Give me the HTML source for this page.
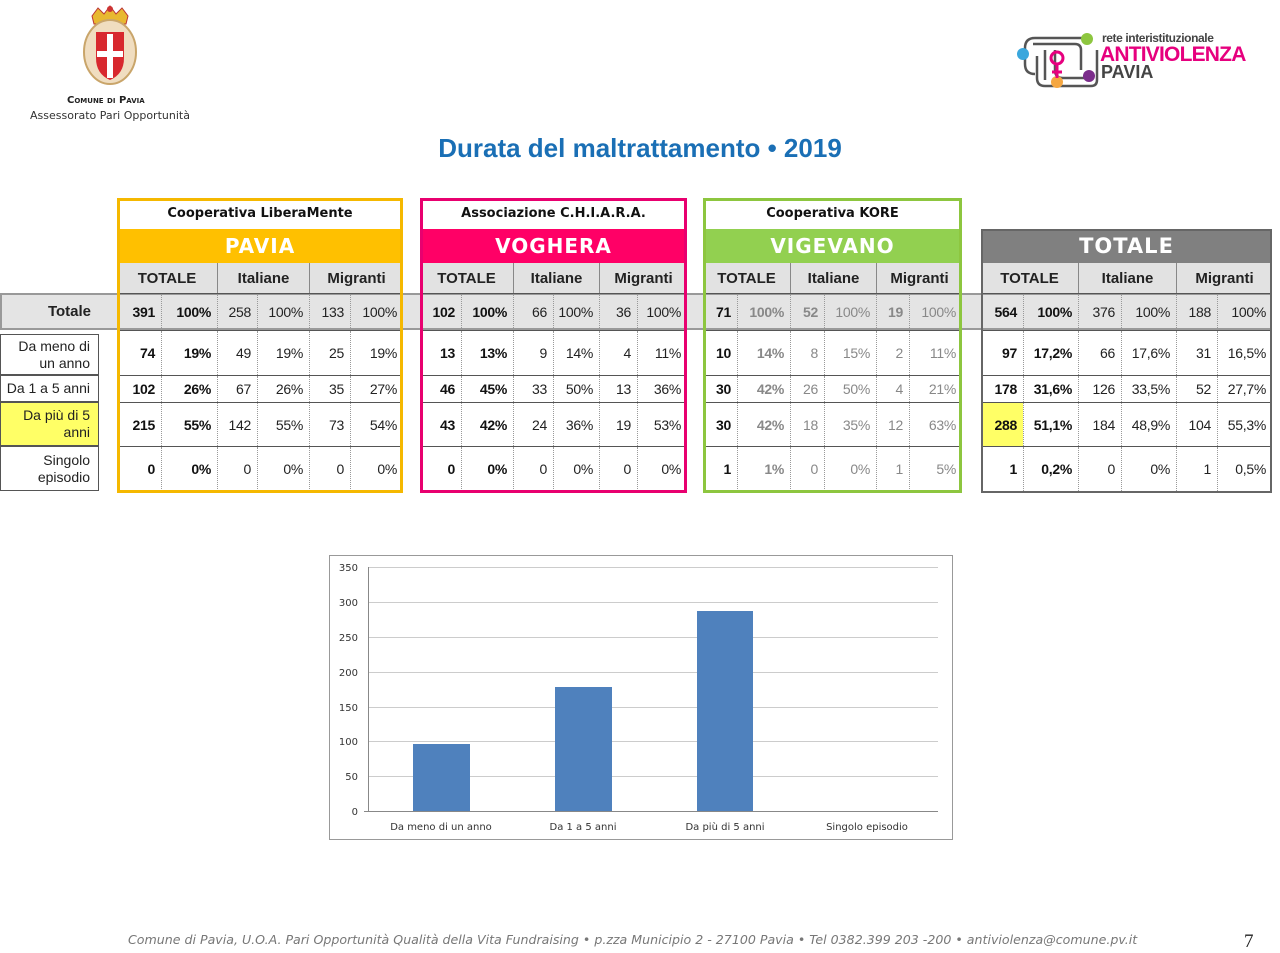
<!DOCTYPE html>
<html><head><meta charset="utf-8">
<style>
body{margin:0;width:1280px;height:953px;background:#fff;position:relative;overflow:hidden;font-family:"Liberation Sans",sans-serif;}
.a{position:absolute}
.blk{position:absolute;box-sizing:border-box}
.row{position:absolute;left:0;display:flex;border-top:1px solid #555;box-sizing:border-box}
.row div{box-sizing:border-box;display:flex;align-items:center;justify-content:flex-end;padding-right:6px;font-size:14px;color:#222;border-left:1px dotted #999;white-space:nowrap;letter-spacing:-0.3px}
.row div:first-child{border-left:none}
.row .b{font-weight:bold;color:#111}
.g div{color:#888}
.g .b{color:#111}
.g .bg{font-weight:bold;color:#888}
.sub{position:absolute;left:0;display:flex;background:#e2e2e2}
.sub div{display:flex;align-items:center;justify-content:center;font-weight:bold;font-size:15px;color:#222;border-left:1px solid #888;box-sizing:border-box}
.sub div:first-child{border-left:none}
.coop{position:absolute;left:0;top:0;height:30px;width:100%;display:flex;align-items:center;justify-content:center;font-family:"DejaVu Sans",sans-serif;font-weight:bold;font-size:13px;color:#111;background:#fff}
.band{position:absolute;left:0;height:34px;width:100%;display:flex;align-items:center;justify-content:center;font-family:"DejaVu Sans",sans-serif;font-weight:bold;font-size:20px;color:#fff;letter-spacing:1px}
.lab{position:absolute;left:0;width:99px;box-sizing:border-box;border:1px solid #555;display:flex;align-items:center;justify-content:flex-end;text-align:right;padding-right:8px;font-size:14px;line-height:17px;color:#222;white-space:nowrap}
</style></head><body>

<svg class="a" style="left:78px;top:4px" width="64" height="86" viewBox="0 0 64 86">
<path d="M14 12 L20 4 L26 10 L32 2 L38 10 L44 4 L50 12 L48 20 L16 20Z" fill="#e8b830" stroke="#b33" stroke-width="1"/>
<circle cx="32" cy="5" r="3" fill="#c33"/>
<ellipse cx="32" cy="48" rx="26" ry="32" fill="#f0ddc0" stroke="#c9a56a" stroke-width="2"/>
<path d="M18 28 L46 28 L46 54 Q46 70 32 76 Q18 70 18 54Z" fill="#d8282e"/>
<rect x="29" y="30" width="6" height="44" fill="#fff"/>
<rect x="19" y="47" width="26" height="6" fill="#fff"/>
</svg>
<div class="a" style="left:67px;top:95px;font-family:'DejaVu Sans',sans-serif;font-size:10px;font-weight:bold;color:#222;font-variant:small-caps">Comune di Pavia</div>
<div class="a" style="left:30px;top:109px;font-family:'DejaVu Sans',sans-serif;font-size:11px;color:#333">Assessorato Pari Opportunità</div>

<svg class="a" style="left:1015px;top:30px" width="90" height="62" viewBox="0 0 90 62">
<g fill="none" stroke="#555" stroke-width="2.5">
<path d="M10 18 Q10 8 20 8 L70 8"/><path d="M18 14 L60 14 Q66 14 66 20 L66 40"/>
<path d="M10 18 L10 34 Q10 44 20 44"/><path d="M22 26 L22 48 Q22 56 30 56 L76 56 Q82 56 82 50 L82 20"/>
<path d="M30 20 L30 50"/><path d="M40 20 L40 40 Q40 48 48 48 L70 48"/>
</g>
<circle cx="72" cy="9" r="6" fill="#8dc63f"/><circle cx="8" cy="24" r="6" fill="#3aa7dd"/>
<circle cx="42" cy="52" r="6" fill="#f5a742"/><circle cx="74" cy="46" r="6" fill="#7b2d8b"/>
<circle cx="42" cy="28" r="6" fill="none" stroke="#e6007e" stroke-width="3"/><path d="M42 34 L42 48 M37 42 L47 42" stroke="#e6007e" stroke-width="3"/>
</svg>
<div class="a" style="left:1102px;top:31px;font-size:12px;font-weight:bold;color:#444;letter-spacing:-0.4px">rete interistituzionale</div>
<div class="a" style="left:1100px;top:43px;font-size:21px;font-weight:bold;color:#e6007e;line-height:24px;letter-spacing:-0.8px">ANTIVIOLENZA</div>
<div class="a" style="left:1101px;top:62px;font-size:18px;font-weight:bold;color:#444">PAVIA</div>

<div class="a" style="left:0;width:1280px;top:133px;text-align:center;font-family:'Liberation Sans',sans-serif;font-size:26px;font-weight:bold;color:#1a6fb5">Durata del maltrattamento • 2019</div>

<div class="a" style="left:0;top:293px;width:1272px;height:37px;background:#e4e4e4;border:2px solid #999;box-sizing:border-box"></div>

<div class="lab" style="top:293px;height:37px;background:transparent;font-weight:bold;font-size:15px;border:none">Totale</div>
<div class="lab" style="top:334px;height:41px">Da meno di<br>un anno</div>
<div class="lab" style="top:375px;height:27px">Da 1 a 5 anni</div>
<div class="lab" style="top:402px;height:44px;background:#ffff66">Da più di 5<br>anni</div>
<div class="lab" style="top:446px;height:45px">Singolo<br>episodio</div>

<div class="blk" style="left:117px;top:198px;width:286px;height:295px">
<div class="coop">Cooperativa LiberaMente</div>
<div class="band" style="top:31px;background:#ffc000">PAVIA</div>
<div class="sub" style="top:65px;height:30px;width:286px"><div style="width:100px">TOTALE</div><div style="width:92px">Italiane</div><div style="width:94px">Migranti</div></div>
<div class="row" style="top:95px;height:37px;width:286px"><div class="b" style="width:44px">391</div><div class="b" style="width:56px">100%</div><div style="width:40px">258</div><div style="width:52px">100%</div><div style="width:41px">133</div><div style="width:53px">100%</div></div>
<div class="row" style="top:132px;height:45px;width:286px"><div class="b" style="width:44px">74</div><div class="b" style="width:56px">19%</div><div style="width:40px">49</div><div style="width:52px">19%</div><div style="width:41px">25</div><div style="width:53px">19%</div></div>
<div class="row" style="top:177px;height:27px;width:286px"><div class="b" style="width:44px">102</div><div class="b" style="width:56px">26%</div><div style="width:40px">67</div><div style="width:52px">26%</div><div style="width:41px">35</div><div style="width:53px">27%</div></div>
<div class="row" style="top:204px;height:44px;width:286px"><div class="b" style="width:44px">215</div><div class="b" style="width:56px">55%</div><div style="width:40px">142</div><div style="width:52px">55%</div><div style="width:41px">73</div><div style="width:53px">54%</div></div>
<div class="row" style="top:248px;height:45px;width:286px"><div class="b" style="width:44px">0</div><div class="b" style="width:56px">0%</div><div style="width:40px">0</div><div style="width:52px">0%</div><div style="width:41px">0</div><div style="width:53px">0%</div></div>
<div class="a" style="left:0;top:0;width:286px;height:295px;border:3px solid #f5b800;box-sizing:border-box"></div>
</div>

<div class="blk" style="left:420px;top:198px;width:267px;height:295px">
<div class="coop">Associazione C.H.I.A.R.A.</div>
<div class="band" style="top:31px;background:#ff0066">VOGHERA</div>
<div class="sub" style="top:65px;height:30px;width:267px"><div style="width:93px">TOTALE</div><div style="width:86px">Italiane</div><div style="width:88px">Migranti</div></div>
<div class="row" style="top:95px;height:37px;width:267px"><div class="b" style="width:41px">102</div><div class="b" style="width:52px">100%</div><div style="width:40px">66</div><div style="width:46px">100%</div><div style="width:38px">36</div><div style="width:50px">100%</div></div>
<div class="row" style="top:132px;height:45px;width:267px"><div class="b" style="width:41px">13</div><div class="b" style="width:52px">13%</div><div style="width:40px">9</div><div style="width:46px">14%</div><div style="width:38px">4</div><div style="width:50px">11%</div></div>
<div class="row" style="top:177px;height:27px;width:267px"><div class="b" style="width:41px">46</div><div class="b" style="width:52px">45%</div><div style="width:40px">33</div><div style="width:46px">50%</div><div style="width:38px">13</div><div style="width:50px">36%</div></div>
<div class="row" style="top:204px;height:44px;width:267px"><div class="b" style="width:41px">43</div><div class="b" style="width:52px">42%</div><div style="width:40px">24</div><div style="width:46px">36%</div><div style="width:38px">19</div><div style="width:50px">53%</div></div>
<div class="row" style="top:248px;height:45px;width:267px"><div class="b" style="width:41px">0</div><div class="b" style="width:52px">0%</div><div style="width:40px">0</div><div style="width:46px">0%</div><div style="width:38px">0</div><div style="width:50px">0%</div></div>
<div class="a" style="left:0;top:0;width:267px;height:295px;border:3px solid #e8006f;box-sizing:border-box"></div>
</div>

<div class="blk" style="left:703px;top:198px;width:259px;height:295px">
<div class="coop">Cooperativa KORE</div>
<div class="band" style="top:31px;background:#92d050">VIGEVANO</div>
<div class="sub" style="top:65px;height:30px;width:259px"><div style="width:87px">TOTALE</div><div style="width:86px">Italiane</div><div style="width:86px">Migranti</div></div>
<div class="row g" style="top:95px;height:37px;width:259px"><div class="b" style="width:34px">71</div><div class="bg" style="width:53px">100%</div><div class="bg" style="width:34px">52</div><div style="width:52px">100%</div><div class="bg" style="width:33px">19</div><div style="width:53px">100%</div></div>
<div class="row g" style="top:132px;height:45px;width:259px"><div class="b" style="width:34px">10</div><div class="bg" style="width:53px">14%</div><div style="width:34px">8</div><div style="width:52px">15%</div><div style="width:33px">2</div><div style="width:53px">11%</div></div>
<div class="row g" style="top:177px;height:27px;width:259px"><div class="b" style="width:34px">30</div><div class="bg" style="width:53px">42%</div><div style="width:34px">26</div><div style="width:52px">50%</div><div style="width:33px">4</div><div style="width:53px">21%</div></div>
<div class="row g" style="top:204px;height:44px;width:259px"><div class="b" style="width:34px">30</div><div class="bg" style="width:53px">42%</div><div style="width:34px">18</div><div style="width:52px">35%</div><div style="width:33px">12</div><div style="width:53px">63%</div></div>
<div class="row g" style="top:248px;height:45px;width:259px"><div class="b" style="width:34px">1</div><div class="bg" style="width:53px">1%</div><div style="width:34px">0</div><div style="width:52px">0%</div><div style="width:33px">1</div><div style="width:53px">5%</div></div>
<div class="a" style="left:0;top:0;width:259px;height:295px;border:3px solid #8dc63f;box-sizing:border-box"></div>
</div>

<div class="blk" style="left:981px;top:198px;width:291px;height:295px">
<div class="band" style="top:31px;background:#808080;font-size:21px">TOTALE</div>
<div class="sub" style="top:65px;height:30px;width:291px"><div style="width:97px">TOTALE</div><div style="width:98px">Italiane</div><div style="width:96px">Migranti</div></div>
<div class="row" style="top:95px;height:37px;width:291px"><div class="b" style="width:42px">564</div><div class="b" style="width:55px">100%</div><div style="width:43px">376</div><div style="width:55px">100%</div><div style="width:41px">188</div><div style="width:55px">100%</div></div>
<div class="row" style="top:132px;height:45px;width:291px"><div class="b" style="width:42px">97</div><div class="b" style="width:55px">17,2%</div><div style="width:43px">66</div><div style="width:55px">17,6%</div><div style="width:41px">31</div><div style="width:55px">16,5%</div></div>
<div class="row" style="top:177px;height:27px;width:291px"><div class="b" style="width:42px">178</div><div class="b" style="width:55px">31,6%</div><div style="width:43px">126</div><div style="width:55px">33,5%</div><div style="width:41px">52</div><div style="width:55px">27,7%</div></div>
<div class="row" style="top:204px;height:44px;width:291px"><div class="b" style="width:42px;background:#ffff66">288</div><div class="b" style="width:55px">51,1%</div><div style="width:43px">184</div><div style="width:55px">48,9%</div><div style="width:41px">104</div><div style="width:55px">55,3%</div></div>
<div class="row" style="top:248px;height:45px;width:291px"><div class="b" style="width:42px">1</div><div class="b" style="width:55px">0,2%</div><div style="width:43px">0</div><div style="width:55px">0%</div><div style="width:41px">1</div><div style="width:55px">0,5%</div></div>
<div class="a" style="left:0;top:31px;width:291px;height:264px;border:2px solid #666;box-sizing:border-box"></div>
</div>

<svg class="a" style="left:0;top:0" width="1280" height="953">
<rect x="329.5" y="555.5" width="623" height="284" fill="#fff" stroke="#999"/>
<g stroke="#ccc" stroke-width="1">
<line x1="368" y1="567.5" x2="938" y2="567.5"/><line x1="368" y1="602.5" x2="938" y2="602.5"/>
<line x1="368" y1="637.5" x2="938" y2="637.5"/><line x1="368" y1="672.5" x2="938" y2="672.5"/>
<line x1="368" y1="707.5" x2="938" y2="707.5"/><line x1="368" y1="741.5" x2="938" y2="741.5"/>
<line x1="368" y1="776.5" x2="938" y2="776.5"/>
</g>
<line x1="368.5" y1="567" x2="368.5" y2="811" stroke="#888"/>
<line x1="364" y1="811.5" x2="938" y2="811.5" stroke="#888"/>
<rect x="413" y="744" width="57" height="67" fill="#4f81bd"/>
<rect x="555" y="687" width="57" height="124" fill="#4f81bd"/>
<rect x="697" y="611" width="56" height="200" fill="#4f81bd"/>
<g font-family="DejaVu Sans,sans-serif" font-size="10" fill="#333" text-anchor="end">
<text x="358" y="571">350</text><text x="358" y="606">300</text><text x="358" y="641">250</text>
<text x="358" y="676">200</text><text x="358" y="711">150</text><text x="358" y="745">100</text>
<text x="358" y="780">50</text><text x="358" y="815">0</text>
</g>
<g font-family="DejaVu Sans,sans-serif" font-size="10" fill="#333" text-anchor="middle">
<text x="441" y="830">Da meno di un anno</text><text x="583" y="830">Da 1 a 5 anni</text>
<text x="725" y="830">Da più di 5 anni</text><text x="867" y="830">Singolo episodio</text>
</g>
</svg>

<div class="a" style="left:128px;top:932px;font-family:'DejaVu Sans',sans-serif;font-style:italic;font-size:12.6px;color:#777;white-space:nowrap">Comune di Pavia, U.O.A. Pari Opportunità Qualità della Vita Fundraising • p.zza Municipio 2 - 27100 Pavia • Tel 0382.399 203 -200 • antiviolenza@comune.pv.it</div>
<div class="a" style="left:1244px;top:931px;font-family:'Liberation Serif',serif;font-size:19px;color:#222">7</div>
</body></html>
